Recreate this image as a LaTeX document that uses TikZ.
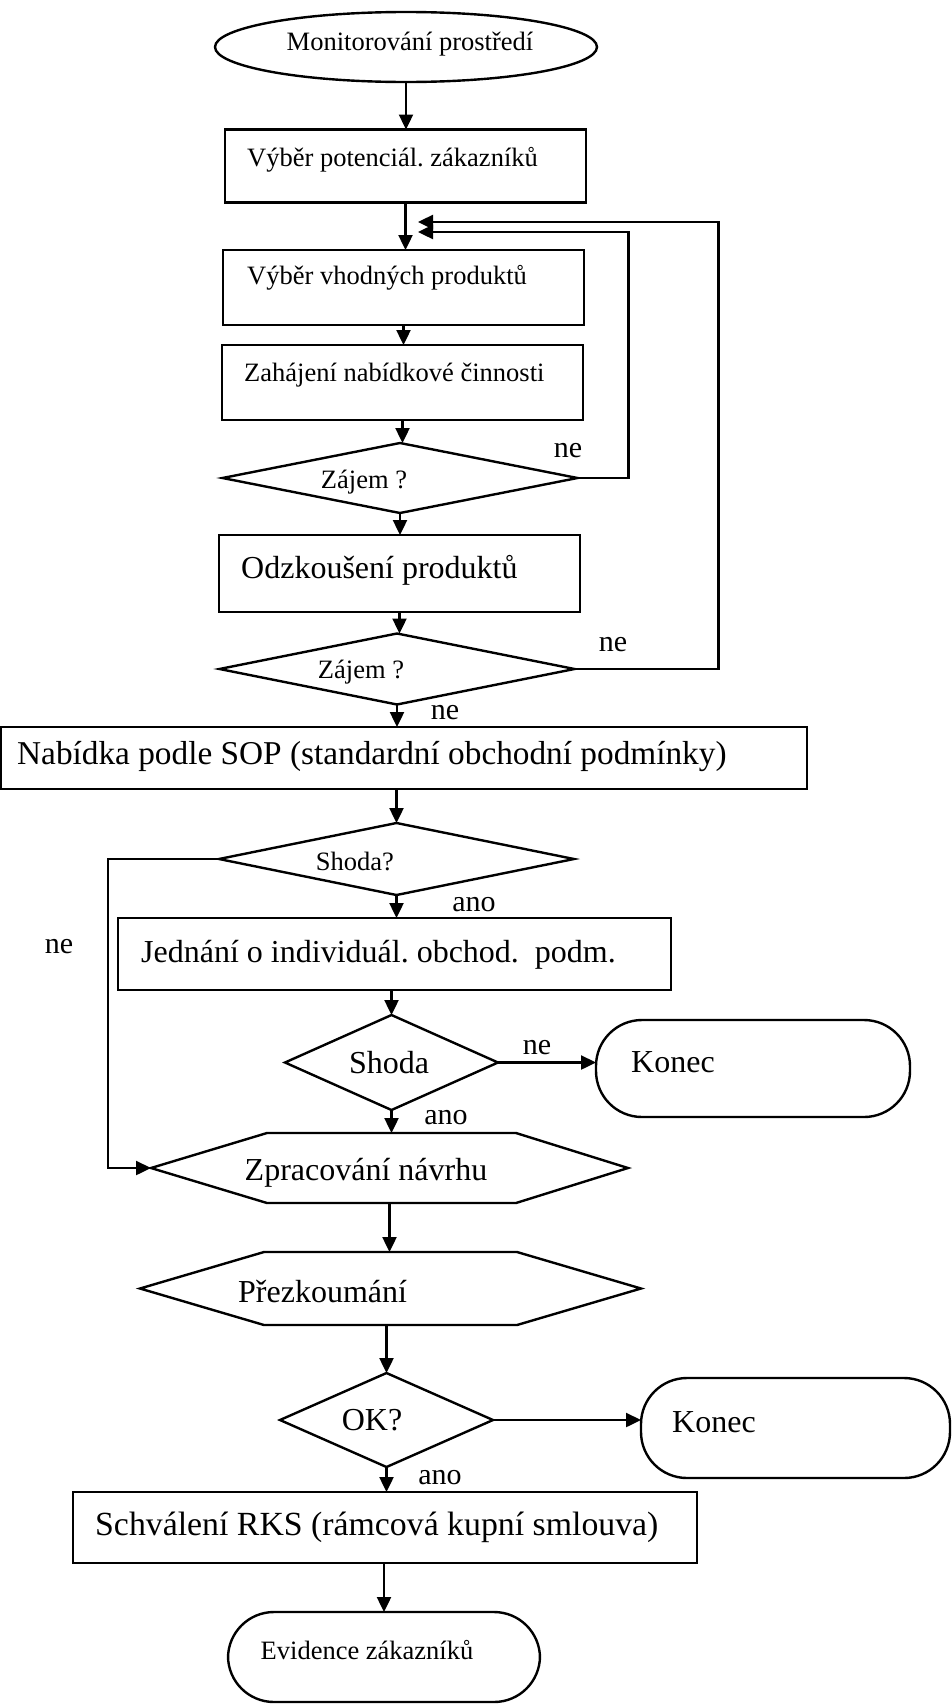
\documentclass[tikz,border=0pt]{standalone}
\usepackage{fontspec}
\setmainfont{Liberation Serif}
\usetikzlibrary{arrows.meta,shapes.geometric}
\begin{document}
\frenchspacing
\begin{tikzpicture}[x=1pt,y=-1pt,
  line width=2.4pt,
  outline/.style={draw, line width=2.4pt, inner sep=0pt, outer sep=0pt},
  box/.style={outline, rectangle},
  dia/.style={outline, diamond},
  stadium/.style={outline, rectangle, rounded corners=46pt},
  frame/.style={rectangle, inner sep=0pt, outer sep=0pt},
  arr/.style={-{Triangle[length=15pt,width=14pt]}},
  small/.style={font=\fontsize{26.5}{30}\selectfont, inner sep=0pt},
  big/.style={font=\fontsize{32}{36}\selectfont, inner sep=0pt},
  lbl/.style={font=\fontsize{30}{34}\selectfont, inner sep=0pt}]
\useasboundingbox (0,0) rectangle (952,1708);

% ---- shapes ----
\node[outline, ellipse, minimum width=382pt, minimum height=70pt] (mon) at (406,47) {};
\node[box, minimum width=361pt, minimum height=73pt] (b1) at (405.5,166) {};
\node[box, minimum width=361pt, minimum height=75pt] (b2) at (403.5,287.5) {};
\node[box, minimum width=361pt, minimum height=75pt] (b3) at (402.5,382.5) {};
\node[dia, minimum width=355pt, minimum height=70pt] (d1) at (400,478) {};
\node[box, minimum width=361pt, minimum height=77pt] (b4) at (399.5,573.5) {};
\node[dia, minimum width=355pt, minimum height=71pt] (d2) at (397,669) {};
\node[box, minimum width=806pt, minimum height=62pt] (b5) at (404,758) {};
\node[dia, minimum width=355pt, minimum height=72pt] (d3) at (396.5,859) {};
\node[box, minimum width=553pt, minimum height=72pt] (b6) at (394.5,954) {};
\node[dia, minimum width=213pt, minimum height=95pt] (d4) at (391.5,1062.5) {};
\node[stadium, minimum width=314pt, minimum height=97pt] (k1) at (753,1068.5) {};
\node[frame, minimum width=477pt, minimum height=70pt] (hex1) at (389.5,1168) {};
\node[frame, minimum width=501pt, minimum height=73pt] (hex2) at (390.5,1288.5) {};
\node[dia, minimum width=213pt, minimum height=94pt] (d5) at (386.5,1420) {};
\node[stadium, minimum width=309pt, minimum height=100pt] (k2) at (795.5,1428) {};
\node[box, minimum width=624pt, minimum height=71pt] (b7) at (385,1527.5) {};
\node[stadium, minimum width=312pt, minimum height=90pt] (ev) at (384,1657) {};

% hexagonal process outlines
\draw (hex1.west) -- ([xshift=116pt]hex1.north west) -- ([xshift=-112pt]hex1.north east)
  -- (hex1.east) -- ([xshift=-112pt]hex1.south east) -- ([xshift=116pt]hex1.south west) -- cycle;
\draw (hex2.west) -- ([xshift=124pt]hex2.north west) -- ([xshift=-124pt]hex2.north east)
  -- (hex2.east) -- ([xshift=-124pt]hex2.south east) -- ([xshift=124pt]hex2.south west) -- cycle;

% ---- texts ----
\node[small] (tmon) at (410,44) {Monitorování prostředí};
\node[small, anchor=west] (t1) at (246,160) {Výběr potenciál. zákazníků};
\node[small, anchor=west] (t2) at (246,278) {Výběr vhodných produktů};
\node[small, anchor=west] (t3) at (243,375) {Zahájení nabídkové činnosti};
\node[small] (td1) at (364,482) {Zájem ?};
\node[big, anchor=west] (t4) at (240,570) {Odzkoušení produktů};
\node[small] (td2) at (361,672) {Zájem ?};
\node[big, anchor=west, font=\fontsize{33.3}{37}\selectfont] (t5) at (16,757) {Nabídka podle SOP (standardní obchodní podmínky)};
\node[small] (td3) at (355,861) {Shoda?};
\node[big, anchor=west] (t6) at (140,955) {Jednání o individuál. obchod.\ \ podm.};
\node[big] (td4) at (389,1063) {Shoda};
\node[big, anchor=west] (tk1) at (630,1062) {Konec};
\node[big] (th1) at (366,1173) {Zpracování návrhu};
\node[big, anchor=west] (th2) at (237,1292) {Přezkoumání};
\node[big] (td5) at (372,1420) {OK?};
\node[big, anchor=west] (tk2) at (671,1422) {Konec};
\node[big, anchor=west, font=\fontsize{33.8}{37}\selectfont] (t7) at (94,1527) {Schválení RKS (rámcová kupní smlouva)};
\node[small] (tev) at (367,1650) {Evidence zákazníků};

% ---- branch labels ----
\node[lbl] (ne1) at (568,451) {ne};
\node[lbl] (ne2) at (613,645) {ne};
\node[lbl] (ne3) at (445,713) {ne};
\node[lbl] (ano1) at (474,905) {ano};
\node[lbl] (ne4) at (59,947) {ne};
\node[lbl] (ne5) at (537,1048) {ne};
\node[lbl] (ano2) at (446,1118) {ano};
\node[lbl] (ano3) at (440,1478) {ano};

% ---- main flow ----
\draw[arr] (mon.south) -- (mon.south |- b1.north);
\draw[arr] (b1.south) -- (b1.south |- b2.north);
\draw[arr] (b2.south) -- (b2.south |- b3.north);
\draw[arr] (b3.south) -- (b3.south |- d1.north);
\draw[arr] (d1.south) -- (d1.south |- b4.north);
\draw[arr] (b4.south) -- (b4.south |- d2.north);
\draw[arr] (d2.south) -- (d2.south |- b5.north);
\draw[arr] (b5.south -| d3.north) -- (d3.north);
\draw[arr] (d3.south) -- (d3.south |- b6.north);
\draw[arr] (d4.north |- b6.south) -- (d4.north);
\draw[arr] (d4.south) -- (d4.south |- hex1.north);
\draw[arr] (hex1.south) -- (hex1.south |- hex2.north);
\draw[arr] (d5.north |- hex2.south) -- (d5.north);
\draw[arr] (d5.south) -- (d5.south |- b7.north);
\draw[arr] (b7.south -| ev.north) -- (ev.north);

% ---- side branches ----
\coordinate (tipIn) at (418,232);
\coordinate (tipOut) at (418,222);
\draw[arr] (d1.east) -- ++(51,0) |- (tipIn);
\draw[arr] (d2.east) -- ++(144,0) |- (tipOut);
\draw[arr] (d3.west) -- ++(-111,0) |- (hex1.west);
\draw[arr] (d4.east) -- (d4.east -| k1.west);
\draw[arr] (d5.east) -- (d5.east -| k2.west);
\end{tikzpicture}
\end{document}
